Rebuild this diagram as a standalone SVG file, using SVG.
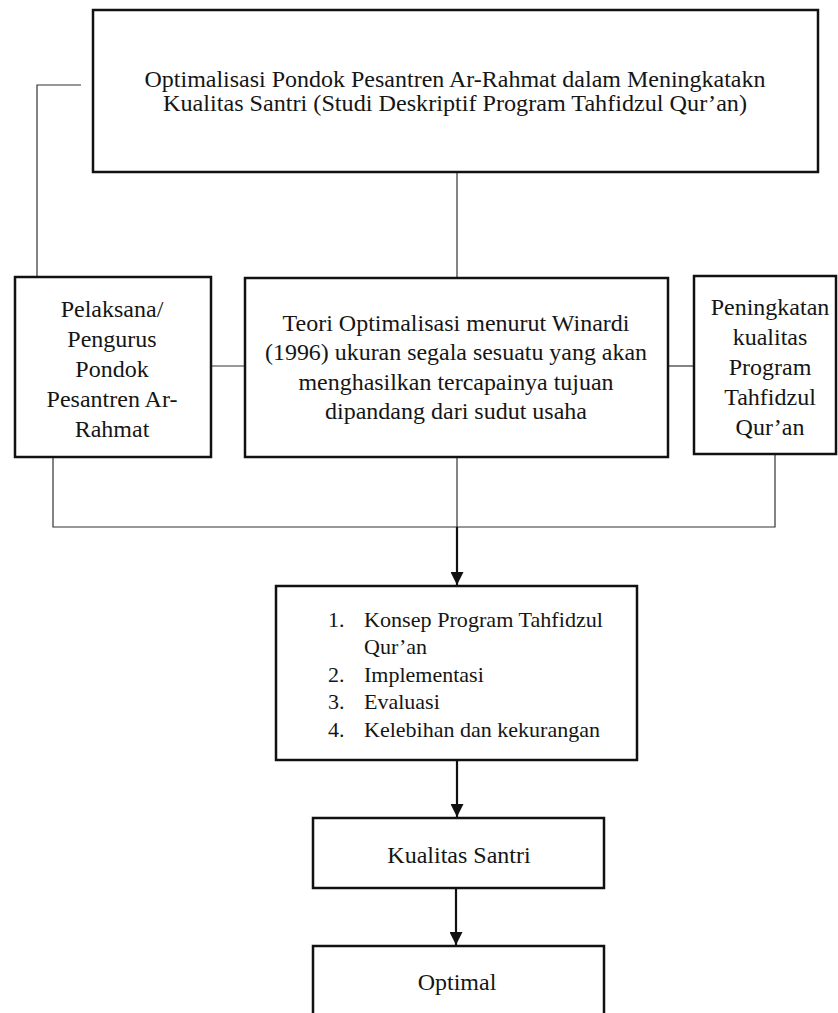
<svg xmlns="http://www.w3.org/2000/svg" width="838" height="1013" viewBox="0 0 838 1013">
  <style>
    .box { fill: #ffffff; stroke: #111111; stroke-width: 2.5; }
    .thin { fill: none; stroke: #333333; stroke-width: 1.2; }
    .thick { fill: none; stroke: #111111; stroke-width: 2.2; }
    text { font-family: "Liberation Serif", "Times New Roman", serif; font-size: 24px; fill: #151515; }
    .c { text-anchor: middle; }
    .list { font-size: 22px; }
  </style>
  <defs>
    <marker id="arrow" markerUnits="userSpaceOnUse" markerWidth="13" markerHeight="13" refX="13" refY="6.5" orient="auto">
      <path d="M0,0 L13,6.5 L0,13 Z" fill="#111111"/>
    </marker>
  </defs>
  <rect width="838" height="1013" fill="#ffffff"/>

  <g id="connectors">
    <path class="thin" d="M81,85 H37 V277"/>
    <path class="thin" d="M457,172 V278"/>
    <path class="thin" d="M211,366 H245"/>
    <path class="thin" d="M668,366 H694"/>
    <path class="thin" d="M53,457 V527 H775 V454"/>
    <path class="thin" d="M457,457 V527"/>
    <path class="thick" d="M457,527 V585" marker-end="url(#arrow)"/>
    <path class="thick" d="M457,760 V817" marker-end="url(#arrow)"/>
    <path class="thick" d="M456,888 V945" marker-end="url(#arrow)"/>
  </g>

  <g id="node-judul">
    <rect class="box" x="93" y="10" width="725" height="162"/>
    <text class="c" x="455" y="87" textLength="621" lengthAdjust="spacingAndGlyphs">Optimalisasi Pondok Pesantren Ar-Rahmat dalam Meningkatakn</text>
    <text class="c" x="455" y="111" textLength="584" lengthAdjust="spacingAndGlyphs">Kualitas Santri (Studi Deskriptif Program Tahfidzul Qur’an)</text>
  </g>

  <g id="node-pelaksana">
    <rect class="box" x="15" y="277" width="196" height="180"/>
    <text class="c" x="112" y="317">Pelaksana/</text>
    <text class="c" x="112" y="347">Pengurus</text>
    <text class="c" x="112" y="377">Pondok</text>
    <text class="c" x="112" y="407">Pesantren Ar-</text>
    <text class="c" x="112" y="437">Rahmat</text>
  </g>

  <g id="node-teori">
    <rect class="box" x="245" y="278" width="423" height="179"/>
    <text class="c" x="456" y="331" textLength="347" lengthAdjust="spacingAndGlyphs">Teori Optimalisasi menurut Winardi</text>
    <text class="c" x="456" y="360" textLength="382" lengthAdjust="spacingAndGlyphs">(1996) ukuran segala sesuatu yang akan</text>
    <text class="c" x="456" y="390" textLength="315" lengthAdjust="spacingAndGlyphs">menghasilkan tercapainya tujuan</text>
    <text class="c" x="456" y="419" textLength="262" lengthAdjust="spacingAndGlyphs">dipandang dari sudut usaha</text>
  </g>

  <g id="node-peningkatan">
    <rect class="box" x="694" y="276" width="142" height="178"/>
    <text class="c" x="770" y="315">Peningkatan</text>
    <text class="c" x="770" y="345">kualitas</text>
    <text class="c" x="770" y="375">Program</text>
    <text class="c" x="770" y="405">Tahfidzul</text>
    <text class="c" x="770" y="435">Qur’an</text>
  </g>

  <g id="node-konsep">
    <rect class="box" x="276" y="586" width="361" height="174"/>
    <text class="list" x="328" y="627">1.</text>
    <text class="list" x="364" y="627" textLength="239" lengthAdjust="spacingAndGlyphs">Konsep Program Tahfidzul</text>
    <text class="list" x="364" y="654">Qur’an</text>
    <text class="list" x="328" y="682">2.</text>
    <text class="list" x="364" y="682">Implementasi</text>
    <text class="list" x="328" y="709">3.</text>
    <text class="list" x="364" y="709">Evaluasi</text>
    <text class="list" x="328" y="737">4.</text>
    <text class="list" x="364" y="737" textLength="236" lengthAdjust="spacingAndGlyphs">Kelebihan dan kekurangan</text>
  </g>

  <g id="node-kualitas">
    <rect class="box" x="313" y="818" width="291" height="70"/>
    <text class="c" x="459" y="863">Kualitas Santri</text>
  </g>

  <g id="node-optimal">
    <rect class="box" x="313" y="946" width="291" height="80"/>
    <text class="c" x="457" y="990">Optimal</text>
  </g>
</svg>
